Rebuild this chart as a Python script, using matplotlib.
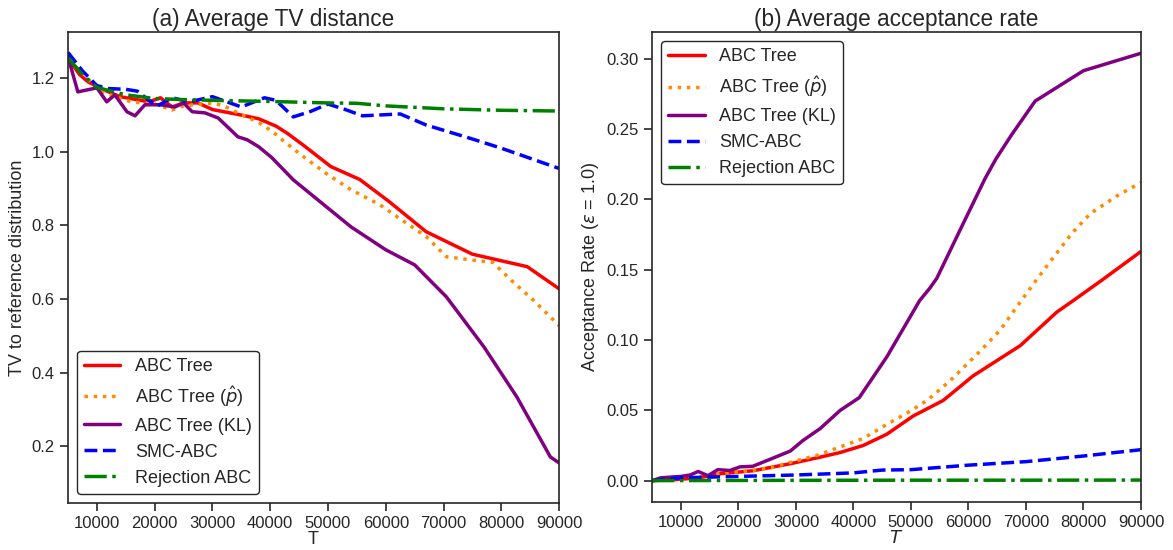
import matplotlib
matplotlib.use("Agg")
import matplotlib.pyplot as plt
import seaborn as sns

sns.set_style("ticks")
plt.rcParams["font.family"] = ["Liberation Sans", "DejaVu Sans"]
plt.rcParams["mathtext.fontset"] = "dejavusans"

# (a) average TV distance
tree_T = [5000, 7000, 8500, 11000, 14000, 19000, 21000, 23000, 25000, 27500, 30000, 35000,
          38000, 41000, 43000, 46000, 50500, 55500, 60500, 67000, 75000, 84500, 90000]
tree_tv = [1.255, 1.21, 1.19, 1.17, 1.15, 1.136, 1.147, 1.122, 1.133, 1.133, 1.115, 1.1,
           1.09, 1.07, 1.05, 1.015, 0.96, 0.925, 0.866, 0.783, 0.722, 0.688, 0.628]

phat_T = [5000, 7500, 10000, 13000, 16000, 20000, 23000, 25000, 28000, 30000, 32000, 34000,
          38000, 40500, 42500, 46000, 50000, 54000, 59000, 63500, 67000, 70500, 76000, 78500,
          82000, 85500, 90000]
phat_tv = [1.25, 1.215, 1.17, 1.15, 1.136, 1.13, 1.114, 1.125, 1.13, 1.133, 1.125, 1.109,
           1.08, 1.054, 1.027, 0.984, 0.938, 0.897, 0.856, 0.807, 0.77, 0.715, 0.704, 0.70,
           0.647, 0.598, 0.528]

kl_T = [5000, 6700, 10000, 11700, 13100, 15200, 16600, 18300, 21000, 23500, 25000, 26500,
        28700, 31000, 34400, 36000, 38000, 40300, 44000, 49000, 54000, 60000, 65000, 70500,
        77000, 82700, 88500, 90000]
kl_tv = [1.258, 1.163, 1.174, 1.136, 1.155, 1.109, 1.098, 1.128, 1.128, 1.122, 1.133, 1.109,
         1.106, 1.092, 1.041, 1.033, 1.014, 0.984, 0.924, 0.86, 0.796, 0.734, 0.693, 0.606,
         0.47, 0.334, 0.171, 0.155]

smc_T = [5000, 7500, 10000, 12000, 15000, 17000, 19000, 20500, 23000, 26000, 30000, 35000,
         39000, 41000, 44000, 47000, 50000, 53000, 56000, 62500, 67000, 75000, 80000, 90000]
smc_tv = [1.27, 1.22, 1.18, 1.172, 1.17, 1.165, 1.14, 1.125, 1.147, 1.136, 1.15, 1.122,
          1.147, 1.14, 1.095, 1.11, 1.13, 1.115, 1.098, 1.103, 1.073, 1.035, 1.01, 0.955]

rej_T = [5000, 7500, 10000, 15000, 20000, 25000, 30000, 40000, 50000, 55000, 60000, 70000,
         80000, 90000]
rej_tv = [1.255, 1.21, 1.175, 1.155, 1.145, 1.142, 1.14, 1.137, 1.133, 1.132, 1.125, 1.117,
          1.113, 1.111]

# (b) average acceptance rate
tree_T2 = [5000, 10000, 13000, 17000, 22500, 29000, 34000, 37700, 41700, 45800, 50400, 55600,
           60800, 69000, 75400, 78200, 83000, 90000]
tree_acc = [0.0, 0.001, 0.002, 0.005, 0.007, 0.012, 0.0165, 0.02, 0.025, 0.033, 0.046, 0.057,
            0.0745, 0.096, 0.12, 0.128, 0.142, 0.163]

phat_T2 = [5000, 10000, 13000, 17000, 22000, 26000, 29000, 33700, 37700, 41700, 45800, 49300,
           52800, 56800, 62000, 65500, 69000, 72400, 75000, 78000, 81200, 86000, 90000]
phat_acc = [0.0, 0.001, 0.002, 0.005, 0.007, 0.0095, 0.013, 0.018, 0.024, 0.03, 0.04, 0.048,
            0.057, 0.071, 0.092, 0.107, 0.127, 0.146, 0.16, 0.176, 0.19, 0.203, 0.212]

kl_T2 = [5000, 6500, 10000, 11600, 13000, 14700, 16400, 18500, 20300, 22500, 26000, 29000,
         31200, 34200, 37700, 41000, 45800, 51500, 53300, 54500, 59100, 62900, 64800, 67500,
         71600, 80000, 90000]
kl_acc = [0.0, 0.002, 0.003, 0.004, 0.0065, 0.0035, 0.0078, 0.0072, 0.0098, 0.0102, 0.016,
          0.021, 0.0285, 0.037, 0.05, 0.059, 0.088, 0.128, 0.137, 0.144, 0.183, 0.215, 0.229,
          0.246, 0.27, 0.2916, 0.304]

smc_T2 = [5000, 10000, 20000, 30000, 40000, 45000, 50000, 60000, 70000, 80000, 90000]
smc_acc = [0.0, 0.002, 0.003, 0.004, 0.0055, 0.0075, 0.0078, 0.011, 0.0135, 0.0175, 0.022]

rej_T2 = [5000, 30000, 50000, 70000, 90000]
rej_acc = [0.0, 0.0002, 0.0003, 0.0003, 0.0004]

labels = ["ABC Tree", r"ABC Tree ($\hat{p}$)", "ABC Tree (KL)", "SMC-ABC", "Rejection ABC"]
styles = [dict(color="red", ls="-"),
          dict(color="darkorange", ls=":"),
          dict(color="purple", ls="-"),
          dict(color="blue", ls="--"),
          dict(color="green", ls="-.")]

fig = plt.figure(figsize=(11.73, 5.5), dpi=100)
ax1 = fig.add_axes([0.058, 0.0855, 0.4186, 0.8565])
ax2 = fig.add_axes([0.556, 0.0873, 0.4167, 0.8547])

series_a = [(tree_T, tree_tv), (phat_T, phat_tv), (kl_T, kl_tv), (smc_T, smc_tv), (rej_T, rej_tv)]
series_b = [(tree_T2, tree_acc), (phat_T2, phat_acc), (kl_T2, kl_acc), (smc_T2, smc_acc),
            (rej_T2, rej_acc)]

for (x, y), lab, st in zip(series_a, labels, styles):
    ax1.plot(x, y, lw=2.5, label=lab, **st)
for (x, y), lab, st in zip(series_b, labels, styles):
    ax2.plot(x, y, lw=2.5, label=lab, **st)

ax1.set_xlim(5000, 90000)
ax1.set_ylim(0.046, 1.326)
ax1.set_xticks(range(10000, 90001, 10000))
ax1.set_title("(a) Average TV distance", fontsize=16.3, pad=4, x=0.417)
ax1.set_xlabel("T", fontsize=13, labelpad=0)
ax1.set_ylabel("TV to reference distribution", fontsize=13)
ax1.legend(loc="lower left", fontsize=13, edgecolor="0.15", framealpha=1)

ax2.set_xlim(5000, 90000)
ax2.set_xticks(range(10000, 90001, 10000))
ax2.set_title("(b) Average acceptance rate", fontsize=16.3, pad=4)
ax2.set_xlabel("$T$", fontsize=13, labelpad=0)
ax2.set_ylabel(r"Acceptance Rate ($\epsilon$ = 1.0)", fontsize=13)
ax2.legend(loc="upper left", fontsize=13, edgecolor="0.15", framealpha=1)

for ax in (ax1, ax2):
    ax.tick_params(labelsize=12, length=6, width=1.2)
    for s in ax.spines.values():
        s.set_linewidth(1.2)

fig.savefig("out.png", dpi=100)
